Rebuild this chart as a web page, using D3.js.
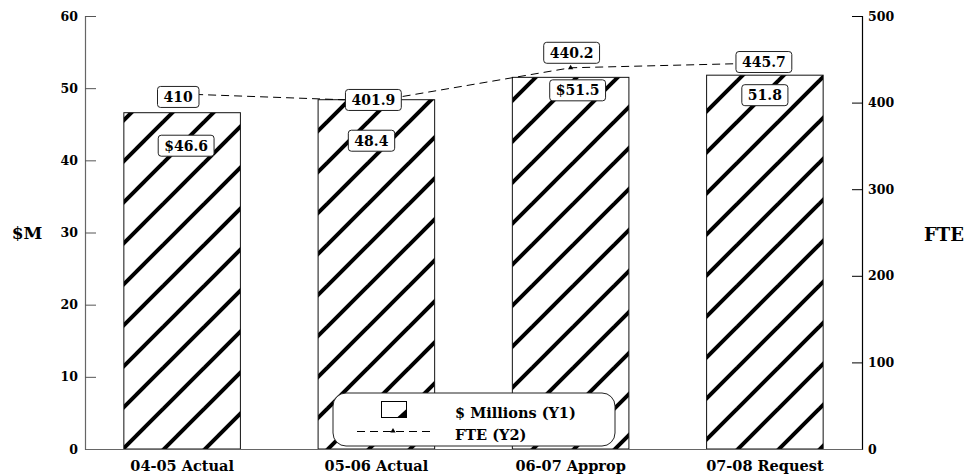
<!DOCTYPE html>
<html>
<head>
<meta charset="utf-8">
<script src="https://cdn.jsdelivr.net/npm/d3@7"></script>
<style>
  html, body { margin: 0; padding: 0; background: #fff; }
  svg { display: block; }
  text { font-family: "DejaVu Serif", serif; font-weight: bold; fill: #000; }
</style>
</head>
<body>
<svg id="chart" width="971" height="475"></svg>
<script>
// Fiscal years shown on the category axis
const categories = ["04-05 Actual", "05-06 Actual", "06-07 Approp", "07-08 Request"];
// Budget in $ millions (left axis, hatched bars)
const dollars = [46.6, 48.4, 51.5, 51.8];
const dollarLabels = ["$46.6", "48.4", "$51.5", "51.8"];
// Full-time equivalents (right axis, dashed line)
const fte = [410, 401.9, 440.2, 445.7];
const fteLabels = ["410", "401.9", "440.2", "445.7"];
// Axis ticks
const y1Ticks = [0, 10, 20, 30, 40, 50, 60];
const y2Ticks = [0, 100, 200, 300, 400, 500];
const legendLabels = ["$ Millions (Y1)", "FTE (Y2)"];

// Callout nudges (dx, dy in px) so the boxes do not collide
const barLabelShift = [[4, 33], [-5, 41], [7, 13], [0, 20]];
const fteLabelShift = [[-4, 3], [-3, -1], [1, -15], [-1, -1]];

const svg = d3.select("#chart");
const plotL = 85, plotR = 862, plotT = 16, plotB = 449;

const x = d3.scaleBand().domain(categories).range([plotL, plotR])
  .paddingInner(0.4).paddingOuter(0.2);
const y1 = d3.scaleLinear().domain([0, 60]).range([plotB, plotT]);
const y2 = d3.scaleLinear().domain([0, 500]).range([plotB, plotT]);

// Diagonal hatch fill (lines x + y = k*P inside each tile)
const P = 41;
const defs = svg.append("defs");
const pat = defs.append("pattern").attr("id", "hatch")
  .attr("patternUnits", "userSpaceOnUse")
  .attr("width", P).attr("height", P)
  .attr("patternTransform", "translate(39,0)");
pat.append("rect").attr("width", P).attr("height", P).attr("fill", "#fff");
[0, 1, 2].forEach(k => {
  pat.append("line")
    .attr("x1", -P).attr("y1", k * P + P)
    .attr("x2", 2 * P).attr("y2", k * P - 2 * P)
    .attr("stroke", "#000").attr("stroke-width", 4);
});

// Bars
svg.append("g").selectAll("rect").data(dollars).join("rect")
  .attr("x", (d, i) => x(categories[i]))
  .attr("y", d => y1(d))
  .attr("width", x.bandwidth())
  .attr("height", d => y1(0) - y1(d))
  .attr("fill", "url(#hatch)")
  .attr("stroke", "#111").attr("stroke-width", 1);

// Axes
const gL = svg.append("g").attr("transform", `translate(${plotL},0)`)
  .call(d3.axisLeft(y1).tickValues(y1Ticks).tickSize(-11).tickPadding(7));
const gR = svg.append("g").attr("transform", `translate(${plotR},0)`)
  .call(d3.axisRight(y2).tickValues(y2Ticks).tickSize(-10).tickPadding(6));
const gB = svg.append("g").attr("transform", `translate(0,${plotB})`)
  .call(d3.axisBottom(x).tickSize(0).tickPadding(12));
[gL, gR, gB].forEach(g => {
  g.selectAll("text").attr("font-family", "DejaVu Serif").attr("font-weight", "bold").attr("fill", "#000");
});
gL.selectAll("text").attr("font-size", 12.5);
gR.selectAll("text").attr("font-size", 12.5);
gB.selectAll("text").attr("font-size", 14.5);
gL.select(".domain").attr("stroke", "#666").attr("stroke-width", 1.2);
gL.selectAll(".tick line").attr("stroke", "#555");
gR.select(".domain").attr("stroke", "#000").attr("stroke-width", 1.2);
gB.select(".domain").attr("stroke", "#666").attr("stroke-width", 1.2);

// Axis titles
svg.append("text").attr("x", 27).attr("y", 239).attr("text-anchor", "middle")
  .attr("font-size", 17).text("$M");
svg.append("text").attr("x", 944).attr("y", 241).attr("text-anchor", "middle")
  .attr("font-size", 18).text("FTE");

// FTE line
const cx = i => x(categories[i]) + x.bandwidth() / 2;
const line = d3.line().x((d, i) => cx(i)).y(d => y2(d));
svg.append("path").datum(fte).attr("d", line)
  .attr("fill", "none").attr("stroke", "#000").attr("stroke-width", 1)
  .attr("stroke-dasharray", "8,5");
const tri = d3.symbol().type(d3.symbolTriangle).size(12);
svg.append("g").selectAll("path").data(fte).join("path")
  .attr("d", tri)
  .attr("transform", (d, i) => `translate(${cx(i)},${y2(d)})`)
  .attr("fill", "#000");

// Rounded value callouts
function callout(g, cxp, cyp, txt) {
  const t = g.append("text").attr("x", cxp).attr("y", cyp).attr("dy", "0.36em")
    .attr("text-anchor", "middle").attr("font-size", 14).text(txt);
  const bb = t.node().getBBox();
  g.insert("rect", "text")
    .attr("x", bb.x - 6).attr("y", cyp - 10.5)
    .attr("width", bb.width + 12).attr("height", 21)
    .attr("rx", 3).attr("ry", 3)
    .attr("fill", "#fff").attr("stroke", "#222").attr("stroke-width", 1);
}
const labelsG = svg.append("g");
dollars.forEach((d, i) => {
  const g = labelsG.append("g");
  callout(g, cx(i) + barLabelShift[i][0], y1(d) + barLabelShift[i][1], dollarLabels[i]);
});
fte.forEach((d, i) => {
  const g = labelsG.append("g");
  callout(g, cx(i) + fteLabelShift[i][0], y2(d) + fteLabelShift[i][1], fteLabels[i]);
});

// Legend
const lg = svg.append("g");
lg.append("rect").attr("x", 333).attr("y", 393).attr("width", 282).attr("height", 53)
  .attr("rx", 13).attr("ry", 13)
  .attr("fill", "#fff").attr("stroke", "#222").attr("stroke-width", 1);
lg.append("rect").attr("x", 381.5).attr("y", 401.5).attr("width", 25).attr("height", 16)
  .attr("fill", "#fff").attr("stroke", "#000").attr("stroke-width", 1);
lg.append("path").attr("d", "M397,417.5 L406.5,417.5 L406.5,409 Z").attr("fill", "#000");
lg.append("line").attr("x1", 357).attr("x2", 431).attr("y1", 431.5).attr("y2", 431.5)
  .attr("stroke", "#000").attr("stroke-width", 1).attr("stroke-dasharray", "8,5");
lg.append("path").attr("d", tri).attr("transform", "translate(393,431)").attr("fill", "#000");
lg.append("text").attr("x", 455).attr("y", 418).attr("font-size", 14.5).text(legendLabels[0]);
lg.append("text").attr("x", 455).attr("y", 440).attr("font-size", 14.5).text(legendLabels[1]);
</script>
</body>
</html>
